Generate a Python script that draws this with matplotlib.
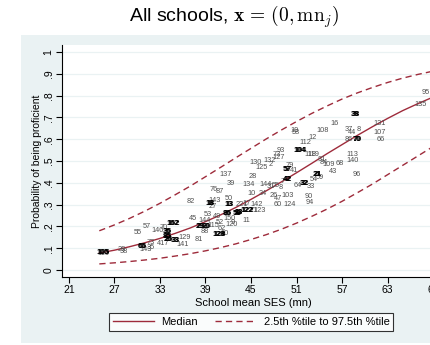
import numpy as np
import matplotlib.pyplot as plt
from matplotlib.patches import Rectangle
from matplotlib.lines import Line2D

plt.rcParams["font.family"] = ["Liberation Sans", "DejaVu Sans"]
plt.rcParams["mathtext.fontset"] = "cm"

#
# predicted curves
#
curve_mn = [25, 27, 29, 31, 33, 35, 37, 39, 41, 43, 45, 47,
            49, 51, 53, 55, 57, 59, 61, 63, 65, 67, 69]
median_p = [0.078, 0.091, 0.107, 0.125, 0.145, 0.168, 0.193, 0.222, 0.253, 0.287, 0.324, 0.363,
            0.404, 0.446, 0.489, 0.533, 0.575, 0.617, 0.657, 0.695, 0.731, 0.763, 0.793]
lower_p = [0.028, 0.033, 0.039, 0.046, 0.054, 0.064, 0.075, 0.088, 0.103, 0.120, 0.140, 0.162,
           0.187, 0.215, 0.246, 0.279, 0.315, 0.354, 0.394, 0.437, 0.480, 0.523, 0.566]
upper_p = [0.180, 0.207, 0.237, 0.270, 0.306, 0.345, 0.385, 0.428, 0.471, 0.515, 0.558, 0.601,
           0.642, 0.681, 0.718, 0.752, 0.784, 0.812, 0.837, 0.860, 0.880, 0.897, 0.912]

#
# school labels: id, school mean SES, observed proportion
#
school_id = ["116", "28", "38", "55", "57", "143", "35", "73", "140", "70",
             "417", "129", "141", "81", "82", "45", "143", "27", "53", "144",
             "88", "76", "87", "137", "39", "50", "134", "28", "130", "125",
             "132", "2", "73", "127", "93", "79", "41", "64", "33", "59",
             "54", "43", "96", "109", "68", "140", "113", "81", "84", "118",
             "119", "112", "12", "19", "58", "108", "16", "37", "44", "8",
             "86", "131", "107", "66", "95", "135", "10", "34", "26", "47",
             "103", "90", "94", "60", "124", "221", "17", "142", "71", "123",
             "11", "144", "31", "55", "8", "7", "80", "62", "115", "49",
             "150", "9", "120", "52"]
school_mn = [25.48, 27.95, 28.29, 30.06, 31.29, 31.09, 31.81, 31.81, 32.74, 33.43,
             33.44, 36.20, 35.97, 38.12, 37.09, 37.31, 40.16, 39.95, 39.33, 38.93,
             38.93, 40.03, 40.82, 41.64, 42.32, 42.01, 44.71, 45.17, 45.66, 46.41,
             47.51, 47.64, 48.36, 48.60, 48.96, 50.05, 50.71, 51.20, 52.91, 54.10,
             53.22, 55.77, 58.94, 55.29, 56.74, 58.36, 58.36, 54.36, 54.53, 52.85,
             53.18, 52.19, 53.08, 50.70, 50.87, 54.43, 55.99, 57.95, 58.32, 59.18,
             57.95, 61.91, 62.01, 62.14, 68.08, 67.29, 45.10, 46.62, 48.03, 48.52,
             49.88, 52.58, 52.71, 48.56, 50.05, 43.75, 44.47, 45.75, 45.30, 46.19,
             44.43, 46.98, 47.64, 48.30, 48.96, 49.22, 41.57, 41.14, 40.03, 40.56,
             42.23, 42.63, 42.49, 40.91]
school_p = [0.078, 0.095, 0.084, 0.173, 0.199, 0.094, 0.103, 0.124, 0.179, 0.194,
            0.122, 0.149, 0.118, 0.139, 0.314, 0.234, 0.318, 0.291, 0.255, 0.225,
            0.176, 0.370, 0.360, 0.438, 0.398, 0.328, 0.393, 0.428, 0.495, 0.469,
            0.502, 0.482, 0.530, 0.517, 0.548, 0.479, 0.456, 0.388, 0.382, 0.425,
            0.417, 0.451, 0.439, 0.486, 0.489, 0.502, 0.532, 0.508, 0.492, 0.528,
            0.528, 0.586, 0.608, 0.642, 0.630, 0.639, 0.673, 0.645, 0.632, 0.645,
            0.599, 0.673, 0.632, 0.598, 0.815, 0.760, 0.352, 0.352, 0.341, 0.329,
            0.341, 0.337, 0.309, 0.302, 0.302, 0.301, 0.306, 0.301, 0.275, 0.271,
            0.229, 0.394, 0.381, 0.388, 0.378, 0.404, 0.168, 0.191, 0.202, 0.244,
            0.234, 0.220, 0.209, 0.220]

# overprinted labels (several schools on top of each other)
stack_id = ["105", "66", "162", "36", "85", "26", "33", "18", "29", "20",
            "13", "104", "57", "42", "32", "21", "38", "70", "23", "122",
            "128", "86", "59"]
stack_mn = [25.44, 30.59, 34.67, 33.96, 33.96, 34.05, 34.98, 39.59, 38.27, 39.00,
            42.10, 51.40, 49.79, 49.79, 52.03, 53.66, 58.71, 58.91, 43.33, 44.43,
            40.69, 41.80, 43.11]
stack_p = [0.079, 0.108, 0.212, 0.176, 0.153, 0.138, 0.134, 0.304, 0.199, 0.200,
           0.302, 0.547, 0.462, 0.417, 0.398, 0.439, 0.714, 0.597, 0.265, 0.271,
           0.164, 0.260, 0.257]

line_col = "#9E2B3B"
bg_col = "#EAF2F3"

fig = plt.figure(figsize=(4.31, 3.45), dpi=100)
bg = Rectangle((21 / 431, 1 - 343 / 345), 1, (343 - 35) / 345,
               transform=fig.transFigure, facecolor=bg_col, edgecolor="none")
bg.set_zorder(-5)
fig.add_artist(bg)

ax = fig.add_axes([62 / 431, 1 - 277 / 345, (445 - 62) / 431, (277 - 45) / 345])
ax.set_zorder(1)
ax.set_facecolor("white")
ax.set_xlim(20.08, 70.58)
ax.set_ylim(-0.032, 1.032)

ax.plot(curve_mn, upper_p, color=line_col, lw=1.0, ls=(0, (4.5, 3)))
ax.plot(curve_mn, lower_p, color=line_col, lw=1.0, ls=(0, (4.5, 3)))
ax.plot(curve_mn, median_p, color=line_col, lw=1.0)

for s, x, y in zip(school_id, school_mn, school_p):
    ax.text(x, y, s, fontsize=5.3, color="#505050", ha="center", va="center")
for s, x, y in zip(stack_id, stack_mn, stack_p):
    ax.text(x, y, s, fontsize=5.3, color="black", ha="center", va="center",
            fontweight="bold")
    ax.text(x + 0.12, y, s, fontsize=5.3, color="black", ha="center", va="center",
            fontweight="bold")

ax.set_xticks(np.arange(21, 70, 6))
ax.set_yticks(np.arange(0, 1.01, 0.1))
ax.set_yticklabels(["0", ".1", ".2", ".3", ".4", ".5", ".6", ".7", ".8", ".9", "1"],
                   rotation=90, va="center")
ax.grid(axis="y", color=bg_col, lw=0.9)
ax.set_axisbelow(True)
for side in ["top", "right"]:
    ax.spines[side].set_visible(False)
ax.spines["left"].set_linewidth(0.8)
ax.spines["bottom"].set_linewidth(0.8)
ax.tick_params(labelsize=7.5, length=4, width=0.8, pad=2)

ax.set_xlabel("School mean SES (mn)", fontsize=8, labelpad=2)
ax.set_ylabel("Probability of being proficient", fontsize=7.5, labelpad=1)

fig.text(234 / 431, 1 - 17 / 345, r"All schools, $\mathbf{x}\,=\,(0, \mathrm{mn}_j)$",
         fontsize=14, ha="center", va="center")

handles = [Line2D([], [], color=line_col, lw=1.0),
           Line2D([], [], color=line_col, lw=1.0, ls=(0, (4.5, 3)))]
leg = fig.legend(handles, ["Median", "2.5th %tile to 97.5th %tile"], ncol=2,
                 loc="center", bbox_to_anchor=(251 / 431, 1 - 322 / 345),
                 fontsize=8, frameon=True, fancybox=False, handlelength=3.7,
                 columnspacing=1.5, handletextpad=0.7, borderpad=0.35)
leg.get_frame().set_edgecolor("black")
leg.get_frame().set_linewidth(0.8)

fig.savefig("out.png", dpi=100)
